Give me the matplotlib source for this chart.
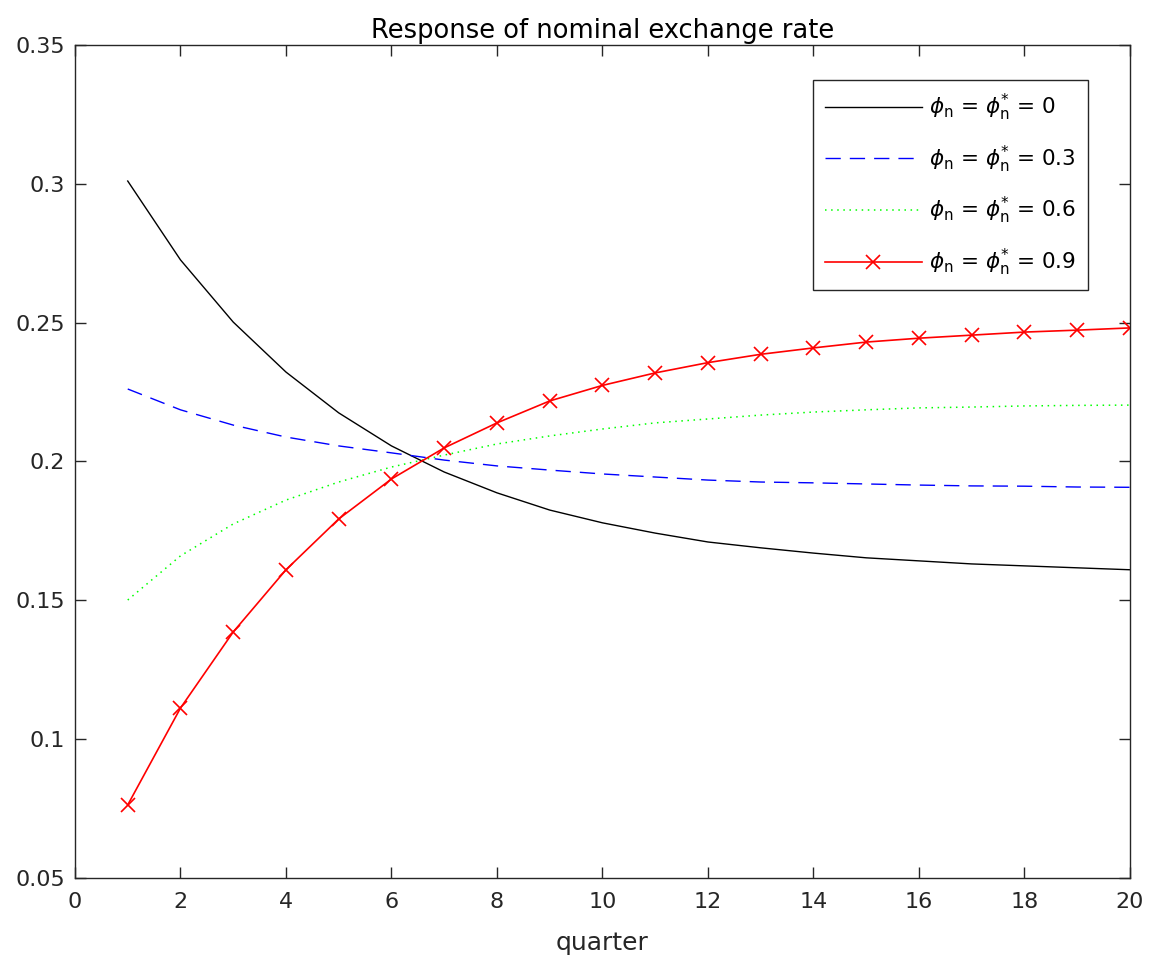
import matplotlib
matplotlib.use("Agg")
import matplotlib.pyplot as plt

plt.rcParams['font.family'] = ['DejaVu Sans']
plt.rcParams['mathtext.fontset'] = 'dejavusans'

quarters = list(range(1, 21))

phi_0 = [0.301, 0.2726, 0.2502, 0.2322, 0.2175, 0.2056, 0.1962, 0.1887, 0.1825, 0.1779,
         0.1742, 0.1710, 0.1689, 0.1670, 0.1653, 0.1642, 0.1631, 0.1624, 0.1617, 0.1610]
phi_03 = [0.2261, 0.2186, 0.2131, 0.2088, 0.2056, 0.2031, 0.2005, 0.1984, 0.1969, 0.1955,
          0.1944, 0.1933, 0.1926, 0.1923, 0.1919, 0.1915, 0.1912, 0.1911, 0.1908, 0.1907]
phi_06 = [0.1501, 0.1660, 0.1775, 0.1861, 0.1926, 0.1980, 0.2023, 0.2063, 0.2092, 0.2117,
          0.2139, 0.2153, 0.2167, 0.2178, 0.2186, 0.2193, 0.2196, 0.2200, 0.2202, 0.2203]
phi_09 = [0.0763, 0.1112, 0.1386, 0.1610, 0.1793, 0.1937, 0.2049, 0.2139, 0.2218, 0.2274,
          0.2319, 0.2356, 0.2386, 0.2409, 0.2430, 0.2444, 0.2455, 0.2466, 0.2473, 0.2481]

labels = [r'$\phi_{\mathrm{n}}$ = $\phi^{*}_{\mathrm{n}}$ = 0',
          r'$\phi_{\mathrm{n}}$ = $\phi^{*}_{\mathrm{n}}$ = 0.3',
          r'$\phi_{\mathrm{n}}$ = $\phi^{*}_{\mathrm{n}}$ = 0.6',
          r'$\phi_{\mathrm{n}}$ = $\phi^{*}_{\mathrm{n}}$ = 0.9']

fig = plt.figure(figsize=(11.5, 9.59), dpi=100)
ax = fig.add_axes([0.0652, 0.0845, 0.9174, 0.8686])

ax.plot(quarters, phi_0, color='black', lw=1, label=labels[0])
ax.plot(quarters, phi_03, color='blue', lw=1, ls=(0, (11, 6.5)), label=labels[1])
ax.plot(quarters, phi_06, color='#00ff00', lw=1.1, ls=(0, (1, 3)), label=labels[2])
ax.plot(quarters, phi_09, color='red', lw=1.2, marker='x', markersize=10,
        markeredgewidth=1.2, label=labels[3])

ax.set_xlim(0, 20)
ax.set_ylim(0.05, 0.35)
ax.set_xticks(range(0, 21, 2))
ax.set_yticks([0.05, 0.1, 0.15, 0.2, 0.25, 0.3, 0.35])
ax.set_yticklabels(['0.05', '0.1', '0.15', '0.2', '0.25', '0.3', '0.35'])
ax.tick_params(direction='in', top=True, right=True, length=8, width=1,
               labelsize=16, colors='#262626', pad=7)
ax.tick_params(axis='x', pad=10)
for s in ax.spines.values():
    s.set_color('#262626')
    s.set_linewidth(1)

ax.set_xlabel('quarter', fontsize=18, color='#262626', labelpad=14)
ax.set_title('Response of nominal exchange rate', fontsize=18.5, pad=5)

leg = ax.legend(loc='upper right', bbox_to_anchor=(0.960, 0.958), borderaxespad=0,
                fontsize=15.5, fancybox=False, edgecolor='#262626', framealpha=1,
                handlelength=4.5, handletextpad=0.35, borderpad=0.55, labelspacing=0.95)
leg.get_frame().set_linewidth(1)

fig.savefig('out.png', dpi=100)
